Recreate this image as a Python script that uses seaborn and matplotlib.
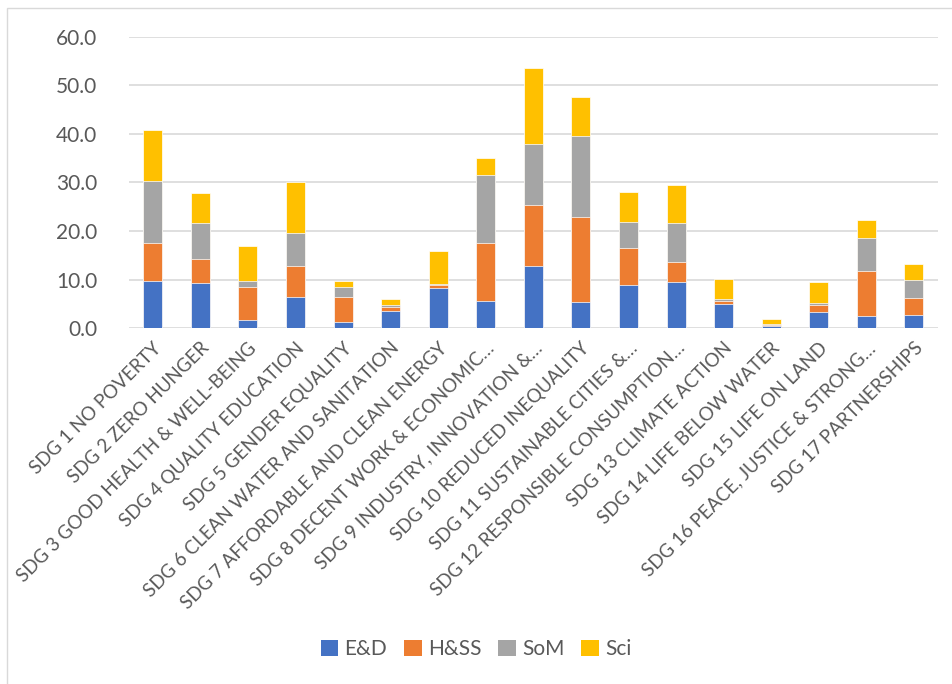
import numpy as np
import pandas as pd
import seaborn as sns
import matplotlib.pyplot as plt
from matplotlib.patches import Patch, Rectangle

categories = [
    "SDG 1 NO POVERTY",
    "SDG 2 ZERO HUNGER",
    "SDG 3 GOOD HEALTH & WELL-BEING",
    "SDG 4 QUALITY EDUCATION",
    "SDG 5 GENDER EQUALITY",
    "SDG 6 CLEAN WATER AND SANITATION",
    "SDG 7 AFFORDABLE AND CLEAN ENERGY",
    "SDG 8 DECENT WORK & ECONOMIC\u2026",
    "SDG 9 INDUSTRY, INNOVATION &\u2026",
    "SDG 10 REDUCED INEQUALITY",
    "SDG 11 SUSTAINABLE CITIES &\u2026",
    "SDG 12 RESPONSIBLE CONSUMPTION\u2026",
    "SDG 13 CLIMATE ACTION",
    "SDG 14 LIFE BELOW WATER",
    "SDG 15 LIFE ON LAND",
    "SDG 16 PEACE, JUSTICE & STRONG\u2026",
    "SDG 17 PARTNERSHIPS",
]

ed = [9.8, 9.3, 1.8, 6.5, 1.4, 3.6, 8.2, 5.6, 12.9, 5.5, 9.0, 9.6, 4.9, 0.5, 3.4, 2.5, 2.7]
hss = [7.8, 5.0, 6.8, 6.3, 5.0, 0.7, 0.65, 12.0, 12.4, 17.3, 7.6, 4.1, 0.8, 0.1, 1.3, 9.2, 3.5]
som = [12.7, 7.4, 1.1, 6.9, 2.0, 0.4, 0.35, 14.0, 12.7, 16.7, 5.3, 8.0, 0.4, 0.3, 0.5, 6.9, 3.8]
sci = [10.5, 6.1, 7.3, 10.4, 1.4, 1.3, 6.7, 3.4, 15.6, 8.0, 6.2, 7.7, 4.1, 1.0, 4.3, 3.7, 3.2]

series = ["E&D", "H&SS", "SoM", "Sci"]
colors = ["#4472C4", "#ED7D31", "#A5A5A5", "#FFC000"]

df = pd.DataFrame({"cat": categories, "E&D": ed, "H&SS": hss, "SoM": som, "Sci": sci})
cum = df[series].cumsum(axis=1)

sns.set_theme(style="white")
plt.rcParams['font.family'] = ['Lato', 'DejaVu Sans']
text_col = "#595959"

fig = plt.figure(figsize=(9.52, 6.84), dpi=100)
ax = fig.add_axes([0.1355, 0.52, 0.8495, 0.4265])

# draw from the top of the stack down so each segment shows
for s, c in zip(series[::-1], colors[::-1]):
    sns.barplot(x=df["cat"], y=cum[s], color=c, width=0.4, ax=ax,
                edgecolor="white", linewidth=0.5, saturation=1, zorder=3)

ax.set_ylim(0, 60)
ax.set_yticks(np.arange(0, 61, 10))
ax.set_yticklabels([f"{v:.1f}" for v in np.arange(0, 61, 10)])
ax.yaxis.grid(True, color="#D9D9D9", linewidth=1.2, zorder=0)
ax.set_axisbelow(True)
for sp in ax.spines.values():
    sp.set_visible(False)
ax.set_xlabel("")
ax.set_ylabel("")
ax.tick_params(axis="y", length=0, pad=23, labelsize=15, labelcolor=text_col)
ax.tick_params(axis="x", length=0, pad=8, labelsize=13.5, labelcolor=text_col)
plt.setp(ax.get_xticklabels(), rotation=45, ha="right", rotation_mode="anchor")

handles = [Patch(facecolor=c, edgecolor="none", label=s) for s, c in zip(series, colors)]
fig.legend(handles=handles, loc="center", bbox_to_anchor=(0.5, 0.051), ncol=4,
           frameon=False, fontsize=15, handlelength=0.85, handleheight=0.85,
           handletextpad=0.3, columnspacing=0.8, labelcolor=text_col)

fig.patches.append(Rectangle((7 / 952, -0.1), 1.2, 1 - 8 / 684 + 0.1,
                             transform=fig.transFigure, fill=False,
                             edgecolor="#D9D9D9", linewidth=1.0))

fig.savefig("out.png", dpi=100)
